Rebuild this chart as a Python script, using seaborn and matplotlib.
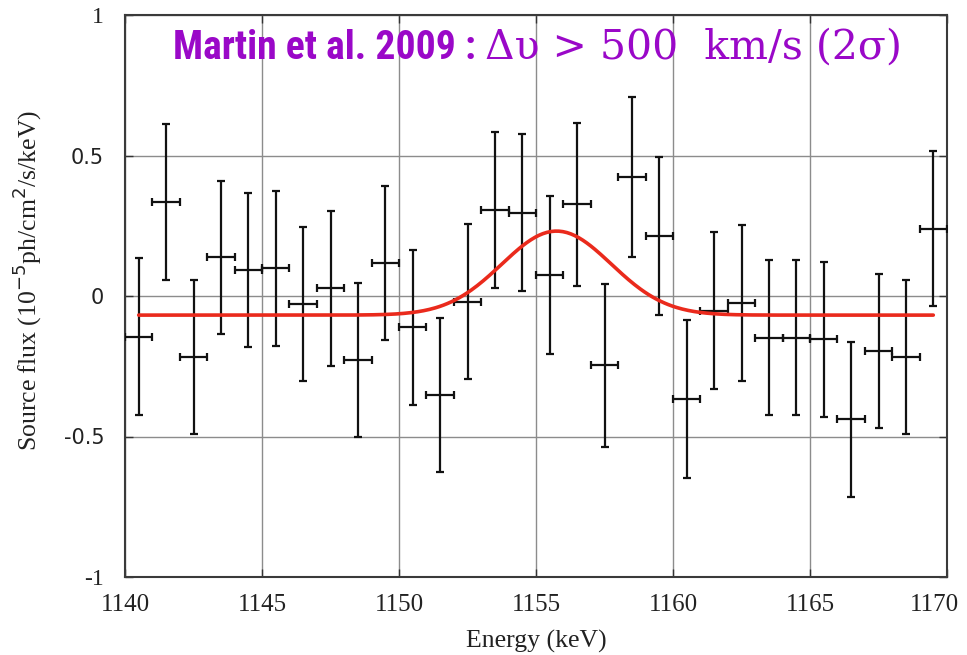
import numpy as np
import pandas as pd
import matplotlib
matplotlib.use("Agg")
import matplotlib.pyplot as plt
import matplotlib.transforms as mtransforms
from matplotlib import font_manager
import seaborn as sns

# ---- data ----
energy = [1140.5, 1141.5, 1142.5, 1143.5, 1144.5, 1145.5, 1146.5, 1147.5, 1148.5, 1149.5,
          1150.5, 1151.5, 1152.5, 1153.5, 1154.5, 1155.5, 1156.5, 1157.5, 1158.5, 1159.5,
          1160.5, 1161.5, 1162.5, 1163.5, 1164.5, 1165.5, 1166.5, 1167.5, 1168.5, 1169.5]
flux = [-0.145, 0.335, -0.217, 0.138, 0.092, 0.098, -0.027, 0.027, -0.228, 0.118,
        -0.112, -0.352, -0.021, 0.305, 0.296, 0.074, 0.326, -0.247, 0.423, 0.213,
        -0.365, -0.053, -0.025, -0.149, -0.149, -0.154, -0.439, -0.196, -0.217, 0.240]
flux_err = [0.279, 0.278, 0.273, 0.273, 0.275, 0.275, 0.274, 0.276, 0.273, 0.275,
            0.277, 0.275, 0.276, 0.277, 0.279, 0.281, 0.289, 0.291, 0.285, 0.281,
            0.281, 0.279, 0.278, 0.276, 0.276, 0.275, 0.275, 0.274, 0.273, 0.276]
bin_half_width = 0.5

# Gaussian line model (fit parameters)
model_baseline = -0.068
model_amplitude = 0.299
model_center = 1155.75
model_sigma = 2.0
model_range = (1140.5, 1169.5)

xticks = [1140, 1145, 1150, 1155, 1160, 1165, 1170]
yticks = [-1, -0.5, 0, 0.5, 1]
ytick_labels = ["-1", "-0.5", "0", "0.5", "1"]

title_part1 = "Martin et al. 2009 : "
title_part2 = "Δυ > 500  km/s (2σ)"

# ---- plotting ----
sns.set_theme(style="white")
plt.rcParams["font.family"] = ["Liberation Serif", "DejaVu Serif", "DejaVu Sans"]

fig = plt.figure(figsize=(9.67, 6.55), dpi=100)
ax = fig.add_axes([125 / 967, 1 - 577 / 655, (947 - 125) / 967, (577 - 15) / 655])

df = pd.DataFrame({"energy": energy, "flux": flux, "err": flux_err})

ax.errorbar(df["energy"], df["flux"], yerr=df["err"], xerr=bin_half_width,
            fmt="none", ecolor="#111111", elinewidth=1.6, capsize=2.6, capthick=1.6, zorder=3)

mx = np.linspace(model_range[0], model_range[1], 400)
my = model_baseline + model_amplitude * np.exp(-0.5 * ((mx - model_center) / model_sigma) ** 2)
sns.lineplot(x=mx, y=my, ax=ax, color="#ea2a1c", linewidth=2.6, zorder=4)

ax.set_xlim(1140, 1170)
ax.set_ylim(-1, 1)
ax.set_xticks(xticks)
ax.set_yticks(yticks)
ax.set_yticklabels(ytick_labels)
ax.grid(True, color="#8c8c8c", linewidth=1.0)
ax.set_axisbelow(True)
for s in ax.spines.values():
    s.set_color("#3a3a3a")
    s.set_linewidth(1.5)
    s.set_visible(True)

ax.tick_params(axis="both", direction="in", length=6, width=1.0, color="#333333",
               top=True, right=True, bottom=True, left=True)
ax.tick_params(axis="x", labelsize=18, pad=12, labelcolor="#222222")
ax.tick_params(axis="y", labelsize=17, pad=15, labelcolor="#222222")
for lab, txt in zip(ax.get_yticklabels(), ytick_labels):
    if txt in ("0.5", "0", "-0.5"):
        lab.set_fontfamily(["DejaVu Sans"])
        lab.set_fontsize(15)
# last x tick label sits slightly left of its tick so it stays inside the figure
last = ax.get_xticklabels()[-1]
last.set_transform(last.get_transform() +
                   mtransforms.ScaledTranslation(-9 / 72, 0, fig.dpi_scale_trans))

ax.set_xlabel("Energy (keV)", fontsize=18.5, labelpad=10, color="#222222")
ax.set_ylabel("Source flux (10$^{-5}$ph/cm$^{2}$/s/keV)", fontsize=18.5, color="#222222")
ax.yaxis.set_label_coords(-0.099, 0.528)

purple = "#9a08c8"
narrow = []
available = {f.name for f in font_manager.fontManager.ttflist}
for cand in ["Liberation Sans Narrow", "Roboto Condensed", "Noto Sans Condensed",
             "Open Sans Condensed", "Liberation Sans"]:
    if cand in available:
        narrow.append(cand)
narrow.append("DejaVu Sans")
size1 = 28.5 if narrow[0] != "Liberation Sans" else 25
t1 = ax.text(0.059, 0.942, title_part1, transform=ax.transAxes, fontsize=size1,
             fontweight="bold", color=purple, family=narrow,
             va="center", ha="left")
fig.canvas.draw()
bb = t1.get_window_extent()
x_end = ax.transAxes.inverted().transform((bb.x1, bb.y0))[0]
ax.text(x_end, 0.942, title_part2, transform=ax.transAxes, fontsize=29.5,
        color=purple, family=["DejaVu Serif"], va="center", ha="left")

fig.savefig("out.png", dpi=100)
